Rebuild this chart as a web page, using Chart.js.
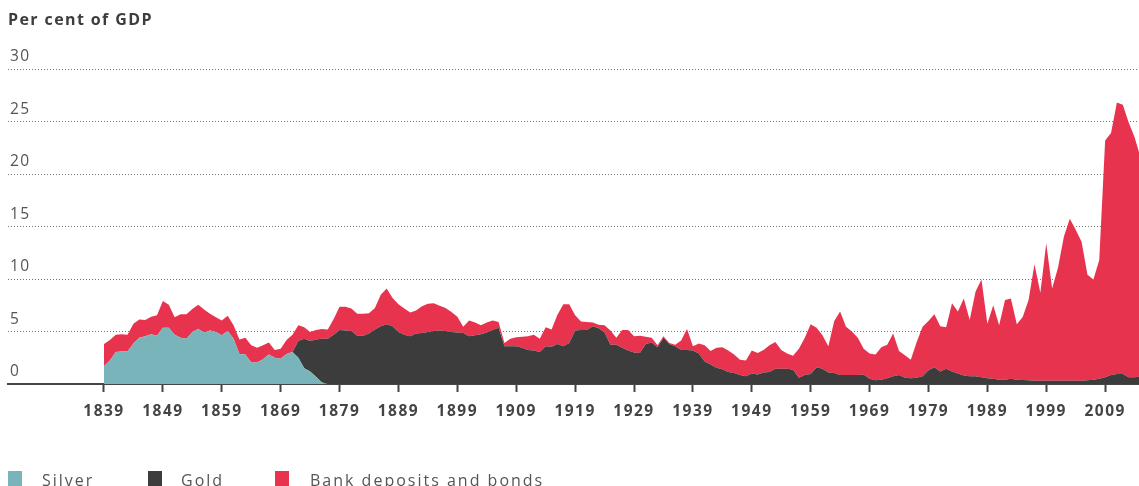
<!DOCTYPE html>
<html>
<head>
<meta charset="utf-8">
<script src="https://cdn.jsdelivr.net/npm/chart.js@4.4.1/dist/chart.umd.min.js"></script>
<style>
  html, body { margin: 0; padding: 0; background: #fff; }
  #wrap { position: relative; width: 1139px; height: 486px; overflow: hidden;
          font-family: "Open Sans", "Noto Sans", sans-serif; }
  #chart { position: absolute; left: 0; top: 0; }
  .title { position: absolute; left: 8px; top: 8px; font-size: 16px; font-weight: bold;
           color: #3d3d3d; letter-spacing: 1.4px; white-space: nowrap; }
  .sw { position: absolute; top: 471px; width: 14px; height: 16px; }
  .lg { position: absolute; top: 470px; font-size: 16px; color: #555; letter-spacing: 2px;
        white-space: nowrap; line-height: 20px; }
</style>
</head>
<body>
<div id="wrap">
  <canvas id="chart" width="1139" height="486"></canvas>
  <div class="title">Per cent of GDP</div>
  <div class="sw" style="left:8px;background:#78b4ba"></div>
  <div class="lg" style="left:42px">Silver</div>
  <div class="sw" style="left:148px;background:#3c3c3c"></div>
  <div class="lg" style="left:181px">Gold</div>
  <div class="sw" style="left:275px;background:#e8334e"></div>
  <div class="lg" style="left:310px">Bank deposits and bonds</div>
</div>
<script>
(function () {
  // données : une valeur par année, de 1839 à 2015 (10 par ligne)
  var FIRST_YEAR = 1839;

  var silver = [
    1.7, 2.25, 3.05, 3.1, 3.1, 3.85, 4.4, 4.55, 4.75, 4.6,      // 1839
    5.35, 5.35, 4.7, 4.4, 4.3, 4.95, 5.25, 4.9, 5.1, 4.95,      // 1849
    4.65, 5.05, 4.3, 2.85, 2.8, 2.05, 2.05, 2.35, 2.8, 2.5,     // 1859
    2.4, 2.85, 3.05, 2.5, 1.5, 1.2, 0.7, 0.15, 0, 0,            // 1869
    0, 0, 0, 0, 0, 0, 0, 0, 0, 0,                               // 1879
    0, 0, 0, 0, 0, 0, 0, 0, 0, 0,                               // 1889
    0, 0, 0, 0, 0, 0, 0, 0, 0, 0,                               // 1899
    0, 0, 0, 0, 0, 0, 0, 0, 0, 0,                               // 1909
    0, 0, 0, 0, 0, 0, 0, 0, 0, 0,                               // 1919
    0, 0, 0, 0, 0, 0, 0, 0, 0, 0,                               // 1929
    0, 0, 0, 0, 0, 0, 0, 0, 0, 0,                               // 1939
    0, 0, 0, 0, 0, 0, 0, 0, 0, 0,                               // 1949
    0, 0, 0, 0, 0, 0, 0, 0, 0, 0,                               // 1959
    0, 0, 0, 0, 0, 0, 0, 0, 0, 0,                               // 1969
    0, 0, 0, 0, 0, 0, 0, 0, 0, 0,                               // 1979
    0, 0, 0, 0, 0, 0, 0, 0, 0, 0,                               // 1989
    0, 0, 0, 0, 0, 0, 0, 0, 0, 0,                               // 1999
    0, 0, 0, 0, 0, 0, 0                                         // 2009
  ];

  var gold = [
    0, 0, 0, 0, 0, 0, 0, 0, 0, 0,                               // 1839
    0, 0, 0, 0, 0, 0, 0, 0, 0, 0,                               // 1849
    0, 0, 0, 0, 0, 0, 0, 0, 0, 0,                               // 1859
    0, 0, 0, 1.6, 2.8, 2.9, 3.55, 4.15, 4.3, 4.7,               // 1869
    5.15, 5.1, 5.05, 4.6, 4.6, 4.8, 5.2, 5.5, 5.7, 5.5,         // 1879
    4.95, 4.7, 4.55, 4.8, 4.85, 4.95, 5.05, 5.1, 5.05, 4.95,    // 1889
    4.9, 4.85, 4.55, 4.65, 4.75, 4.9, 5.15, 5.35, 3.6, 3.6,     // 1899
    3.6, 3.45, 3.25, 3.2, 3.05, 3.6, 3.55, 3.8, 3.6, 3.9,       // 1909
    5.1, 5.15, 5.15, 5.5, 5.3, 4.9, 3.75, 3.75, 3.45, 3.2,      // 1919
    3.0, 2.95, 3.8, 3.95, 3.5, 4.4, 3.8, 3.6, 3.25, 3.25,       // 1929
    3.2, 2.9, 2.15, 1.85, 1.55, 1.4, 1.15, 1.05, 0.85, 0.75,    // 1939
    1.0, 0.9, 1.1, 1.15, 1.45, 1.45, 1.45, 1.35, 0.6, 0.85,     // 1949
    0.95, 1.6, 1.45, 1.1, 1.05, 0.85, 0.85, 0.85, 0.85, 0.9,    // 1959
    0.5, 0.35, 0.4, 0.55, 0.75, 0.85, 0.6, 0.55, 0.6, 0.75,     // 1969
    1.3, 1.6, 1.2, 1.45, 1.2, 1.0, 0.8, 0.75, 0.75, 0.65,       // 1979
    0.55, 0.5, 0.4, 0.4, 0.5, 0.4, 0.38, 0.35, 0.3, 0.3,        // 1989
    0.3, 0.3, 0.3, 0.3, 0.3, 0.3, 0.3, 0.35, 0.4, 0.5,          // 1999
    0.65, 0.85, 0.95, 0.95, 0.65, 0.65, 0.7                     // 2009
  ];

  var bank = [
    2.1, 1.95, 1.65, 1.65, 1.6, 1.9, 1.75, 1.55, 1.65, 1.95,    // 1839
    2.55, 2.2, 1.65, 2.25, 2.35, 2.2, 2.3, 2.2, 1.6, 1.4,       // 1849
    1.4, 1.45, 1.3, 1.4, 1.6, 1.65, 1.4, 1.35, 1.15, 0.75,      // 1859
    0.95, 1.35, 1.65, 1.5, 1.1, 0.85, 0.9, 0.95, 0.9, 1.5,      // 1869
    2.2, 2.25, 2.15, 2.1, 2.1, 1.95, 2.05, 3.0, 3.4, 2.7,       // 1879
    2.65, 2.5, 2.25, 2.2, 2.55, 2.7, 2.65, 2.35, 2.2, 1.9,      // 1889
    1.5, 0.6, 1.5, 1.2, 0.85, 0.95, 0.9, 0.55, 0.3, 0.7,        // 1899
    0.85, 1.05, 1.3, 1.5, 1.25, 1.8, 1.65, 2.8, 4.0, 3.7,       // 1909
    1.45, 0.8, 0.75, 0.35, 0.35, 0.7, 1.35, 0.65, 1.7, 1.95,    // 1919
    1.55, 1.65, 0.7, 0.45, 0.2, 0.15, 0.1, 0.15, 0.9, 2.0,      // 1929
    0.4, 0.95, 1.55, 1.3, 1.9, 2.1, 2.05, 1.75, 1.45, 1.5,      // 1939
    2.2, 2.05, 2.15, 2.55, 2.55, 1.8, 1.45, 1.35, 2.75, 3.55,   // 1949
    4.75, 3.75, 3.2, 2.5, 4.95, 6.05, 4.6, 4.15, 3.55, 2.45,    // 1959
    2.4, 2.45, 3.1, 3.2, 4.05, 2.3, 2.15, 1.75, 3.4, 4.7,       // 1969
    4.7, 5.05, 4.3, 3.95, 6.5, 5.9, 7.35, 5.35, 8.05, 9.3,      // 1979
    5.2, 7.0, 5.2, 7.6, 7.65, 5.3, 6.0, 7.65, 11.1, 8.4,        // 1989
    13.1, 8.8, 10.8, 13.75, 15.45, 14.4, 13.25, 10.05, 9.55, 11.3, // 1999
    22.55, 23.05, 25.85, 25.65, 24.25, 22.85, 20.9              // 2009
  ];

  var tickYears = [1839, 1849, 1859, 1869, 1879, 1889, 1899, 1909, 1919,
                   1929, 1939, 1949, 1959, 1969, 1979, 1989, 1999, 2009];
  var yTicks = [0, 5, 10, 15, 20, 25, 30];

  var years = silver.map(function (_, i) { return FIRST_YEAR + i; });
  function pts(arr) {
    return arr.map(function (v, i) { return { x: years[i], y: v }; });
  }

  var FONT = '"Open Sans", "Noto Sans", sans-serif';

  // espacement des lettres sur le canvas
  var spacing = {
    id: 'spacing',
    beforeInit: function (c) { c.ctx.letterSpacing = '1.5px'; },
    beforeDraw: function (c) { c.ctx.letterSpacing = '1.5px'; }
  };

  function area(label, data, color, fill) {
    return {
      label: label,
      data: pts(data),
      backgroundColor: color,
      borderColor: color,
      borderWidth: 0,
      pointRadius: 0,
      tension: 0,
      fill: fill
    };
  }

  new Chart(document.getElementById('chart'), {
    type: 'line',
    data: {
      datasets: [
        area('Silver', silver, '#78b4ba', 'origin'),
        area('Gold', gold, '#3c3c3c', '-1'),
        area('Bank deposits and bonds', bank, '#e8334e', '-1')
      ]
    },
    plugins: [spacing],
    options: {
      responsive: false,
      animation: false,
      events: [],
      layout: { padding: { top: 69, left: 8, right: 0, bottom: 0 } },
      plugins: { legend: { display: false }, tooltip: { enabled: false } },
      scales: {
        x: {
          type: 'linear',
          min: 1822.7,
          max: 2014.75,
          afterFit: function (s) { s.height = 102; },
          afterBuildTicks: function (s) {
            s.ticks = tickYears.map(function (y) { return { value: y }; });
          },
          grid: { drawOnChartArea: false, drawTicks: true, tickLength: 8,
                  tickColor: '#444', tickWidth: 2 },
          border: { display: true, color: '#444', width: 2 },
          ticks: {
            autoSkip: false, maxRotation: 0, padding: 10,
            color: '#444',
            font: { family: FONT, size: 15.5, weight: 'bold' },
            callback: function (v) { return String(v); }
          }
        },
        y: {
          stacked: true,
          min: 0,
          max: 30,
          afterFit: function (s) { s.width = 0; },
          afterBuildTicks: function (s) {
            s.ticks = yTicks.map(function (v) { return { value: v }; });
          },
          grid: {
            drawTicks: false,
            color: function (ctx) { return ctx.tick && ctx.tick.value === 0 ? 'rgba(0,0,0,0)' : '#777'; },
            lineWidth: 1
          },
          border: { display: false, dash: [1, 2] },
          ticks: {
            mirror: true, padding: 2, labelOffset: -12,
            color: '#555',
            font: { family: FONT, size: 15.5 },
            callback: function (v) { return String(v); }
          }
        }
      }
    }
  });
})();
</script>
</body>
</html>
